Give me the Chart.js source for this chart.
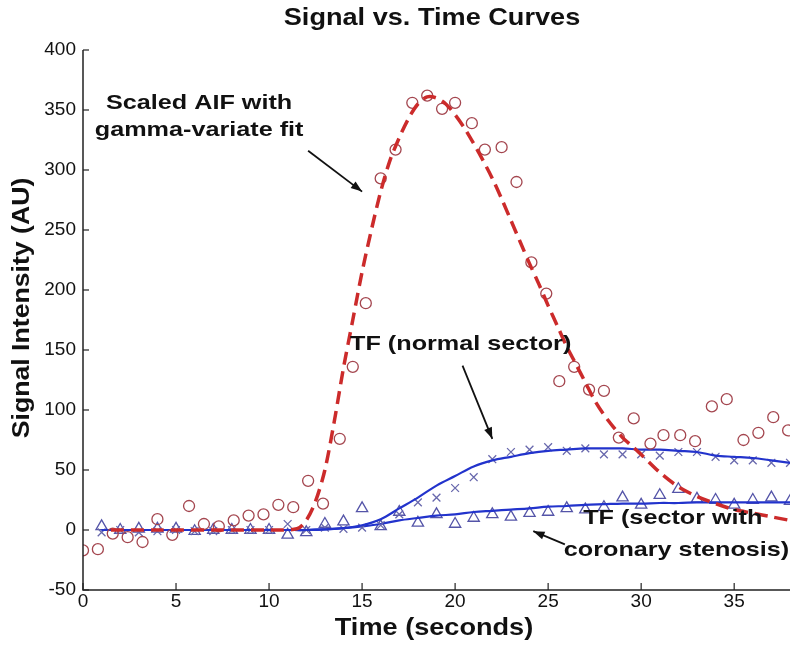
<!DOCTYPE html>
<html>
<head>
<meta charset="utf-8">
<script src="https://cdn.jsdelivr.net/npm/chart.js@4/dist/chart.umd.min.js"></script>
<style>
  html, body { margin: 0; padding: 0; background: #fff; }
  #wrap { width: 800px; height: 652px; }
</style>
</head>
<body>
<div id="wrap"><canvas id="curves" width="800" height="652"></canvas></div>
<script>
// values
const aifTime = [0, 0.8, 1.6, 2.4, 3.2, 4.0, 4.8, 5.7, 6.5, 7.3, 8.1, 8.9, 9.7, 10.5, 11.3, 12.1,
  12.9, 13.8, 14.5, 15.2, 16.0, 16.8, 17.7, 18.5, 19.3, 20.0, 20.9, 21.6, 22.5, 23.3, 24.1, 24.9,
  25.6, 26.4, 27.2, 28.0, 28.8, 29.6, 30.5, 31.2, 32.1, 32.9, 33.8, 34.6, 35.5, 36.3, 37.1, 37.9];
const aifSignal = [-17, -16, -3, -6, -10, 9, -4, 20, 5, 3, 8, 12, 13, 21, 19, 41,
  22, 76, 136, 189, 293, 317, 356, 362, 351, 356, 339, 317, 319, 290, 223, 197,
  124, 136, 117, 116, 77, 93, 72, 79, 79, 74, 103, 109, 75, 81, 94, 83];

const aifFitTime = [1.5, 4, 7, 10, 11.5, 12, 12.5, 13, 13.5, 14, 14.5, 15, 15.5, 16, 16.5, 17, 17.5,
  18, 18.5, 19, 19.5, 20, 20.5, 21, 21.5, 22, 22.5, 23, 23.5, 24, 24.5, 25, 25.5, 26, 26.5, 27,
  27.5, 28, 28.5, 29, 29.5, 30, 31, 32, 33, 34, 35, 36, 37, 38];
const aifFitSignal = [0, 0, 0, 0, 1, 8, 24, 50, 90, 135, 175, 215, 250, 282, 308, 327, 343,
  355, 361, 360, 355, 346, 335, 322, 308, 293, 276, 258, 240, 222, 205, 187, 170, 153, 138, 123,
  108, 96, 86, 77, 70, 63, 48, 36, 28, 22, 17, 14, 11, 8];

const tfTime = [1, 2, 3, 4, 5, 6, 7, 8, 9, 10, 11, 12, 13, 14, 15, 16, 17, 18, 19,
  20, 21, 22, 23, 24, 25, 26, 27, 28, 29, 30, 31, 32, 33, 34, 35, 36, 37, 38];
const normalSignal = [-2, 0, -2, -1, 0, -1, -1, 0, 0, 0, 5, 0, 2, 1, 2, 4, 13, 23, 27,
  35, 44, 59, 65, 67, 69, 66, 68, 63, 63, 63, 62, 65, 65, 61, 58, 58, 56, 56];
const normalFit = [0, 0, 0, 0, 0, 0, 0, 0, 0, 0, 0, 0, 0.5, 1.5, 4, 9, 18, 27, 37,
  45, 53, 58, 61, 64, 66, 67, 68, 68, 68, 67, 67, 66, 65, 62, 61, 60, 58, 56];
const stenosisSignal = [3, 0, 1, 1, 1, -1, 0, 0, 0, 0, -4, -2, 5, 7, 18, 3, 15, 6, 13,
  5, 10, 13, 11, 14, 15, 18, 17, 19, 27, 21, 29, 34, 26, 25, 21, 25, 27, 24];
const stenosisFit = [0, 0, 0, 0, 0, 0, 0, 0, 0, 0, 0, 0, 0.5, 1.5, 3, 5, 8, 10, 12,
  13, 15, 16, 17, 18, 19.5, 20, 21, 21.5, 22, 22, 22.5, 22.5, 23, 23, 23, 23, 23, 23];

const xTicks = [0, 5, 10, 15, 20, 25, 30, 35];
const yTicks = [-50, 0, 50, 100, 150, 200, 250, 300, 350, 400];

const toPoints = (xs, ys) => xs.map((x, i) => ({ x: x, y: ys[i] }));

// annotation texts [text, x, y] in data units
const notes = [
  ['Scaled AIF with', 6.24, 356],
  ['gamma-variate fit', 6.24, 333],
  ['TF (normal sector)', 20.3, 155],
  ['TF (sector with', 31.7, 10],
  ['coronary stenosis)', 31.9, -17]
];
// arrows [x0, y0, x1, y1], head at the end
const arrows = [
  [12.1, 316, 15.0, 282],
  [20.4, 137, 22.0, 76],
  [25.9, -12, 24.2, -1]
];

const FONT = '"Liberation Sans", Arial, sans-serif';
// the figure's lettering is a little wider than Arial
const STRETCH = 1.13;

function wideText(c, text, x, y, sx) {
  c.save();
  c.translate(x, y);
  c.scale(sx, 1);
  c.fillText(text, 0, 0);
  c.restore();
}

const decorPlugin = {
  id: 'decor',
  afterDraw(chart) {
    const c = chart.ctx;
    const xs = chart.scales.x, ys = chart.scales.y;
    const a = chart.chartArea;
    c.save();
    c.strokeStyle = '#222';
    c.lineWidth = 1.5;
    // axis lines
    c.beginPath();
    c.moveTo(a.left, a.top);
    c.lineTo(a.left, a.bottom);
    c.lineTo(a.right, a.bottom);
    c.stroke();
    // inward ticks
    c.lineWidth = 1.2;
    yTicks.forEach(v => {
      const py = ys.getPixelForValue(v);
      c.beginPath(); c.moveTo(a.left, py); c.lineTo(a.left + 6, py); c.stroke();
    });
    xTicks.forEach(v => {
      const px = xs.getPixelForValue(v);
      c.beginPath(); c.moveTo(px, a.bottom); c.lineTo(px, a.bottom - 7); c.stroke();
    });

    // notes
    c.fillStyle = '#111';
    c.font = 'bold 21px ' + FONT;
    c.textAlign = 'center';
    c.textBaseline = 'middle';
    notes.forEach(n => {
      wideText(c, n[0], xs.getPixelForValue(n[1]), ys.getPixelForValue(n[2]), 1.2);
    });
    // arrows
    c.strokeStyle = '#111';
    c.lineWidth = 1.8;
    arrows.forEach(ar => {
      const x0 = xs.getPixelForValue(ar[0]), y0 = ys.getPixelForValue(ar[1]);
      const x1 = xs.getPixelForValue(ar[2]), y1 = ys.getPixelForValue(ar[3]);
      const ang = Math.atan2(y1 - y0, x1 - x0);
      c.beginPath(); c.moveTo(x0, y0); c.lineTo(x1, y1); c.stroke();
      c.beginPath();
      c.moveTo(x1, y1);
      c.lineTo(x1 - 12 * Math.cos(ang - 0.35), y1 - 12 * Math.sin(ang - 0.35));
      c.lineTo(x1 - 12 * Math.cos(ang + 0.35), y1 - 12 * Math.sin(ang + 0.35));
      c.closePath();
      c.fillStyle = '#111';
      c.fill();
    });

    // titles
    c.font = 'bold 24px ' + FONT;
    wideText(c, 'Signal vs. Time Curves', 432, 18, STRETCH);
    wideText(c, 'Time (seconds)', 434, 628, STRETCH);
    c.translate(22, 308);
    c.rotate(-Math.PI / 2);
    wideText(c, 'Signal Intensity (AU)', 0, 0, 1.11);
    c.restore();
  }
};

document.addEventListener('DOMContentLoaded', () => {
  const ctx = document.getElementById('curves').getContext('2d');

  new Chart(ctx, {
    type: 'scatter',
    data: {
      datasets: [
        {
          label: 'AIF fit',
          data: toPoints(aifFitTime, aifFitSignal),
          showLine: true,
          borderColor: '#cc2b2b',
          borderWidth: 3.5,
          borderDash: [13, 7],
          pointRadius: 0,
          tension: 0.3
        },
        {
          label: 'AIF',
          data: toPoints(aifTime, aifSignal),
          pointStyle: 'circle',
          pointRadius: 5.5,
          borderColor: '#a4464f',
          borderWidth: 1.3,
          backgroundColor: 'rgba(0,0,0,0)'
        },
        {
          label: 'Normal fit',
          data: toPoints(tfTime, normalFit),
          showLine: true,
          borderColor: '#2233cc',
          borderWidth: 2.2,
          pointRadius: 0,
          tension: 0.35
        },
        {
          label: 'Normal',
          data: toPoints(tfTime, normalSignal),
          pointStyle: 'crossRot',
          pointRadius: 5.5,
          borderColor: '#6868ad',
          borderWidth: 1.3
        },
        {
          label: 'Stenosis fit',
          data: toPoints(tfTime, stenosisFit),
          showLine: true,
          borderColor: '#2233cc',
          borderWidth: 2.2,
          pointRadius: 0,
          tension: 0.35
        },
        {
          label: 'Stenosis',
          data: toPoints(tfTime, stenosisSignal),
          pointStyle: 'triangle',
          pointRadius: 6.5,
          borderColor: '#5454a8',
          borderWidth: 1.3,
          backgroundColor: 'rgba(0,0,0,0)'
        }
      ]
    },
    options: {
      responsive: false,
      animation: false,
      layout: { padding: { top: 50, right: 10, left: 0, bottom: 0 } },
      plugins: {
        legend: { display: false },
        tooltip: { enabled: false }
      },
      scales: {
        x: {
          type: 'linear',
          min: 0,
          max: 38,
          afterFit: (s) => { s.height = 62; },
          afterBuildTicks: (s) => { s.ticks = xTicks.map(v => ({ value: v })); },
          grid: { display: false },
          border: { display: false },
          ticks: { color: '#111', font: { family: FONT, size: 19 }, padding: -8, maxRotation: 0 }
        },
        y: {
          type: 'linear',
          min: -50,
          max: 400,
          afterFit: (s) => { s.width = 83; },
          afterBuildTicks: (s) => { s.ticks = yTicks.map(v => ({ value: v })); },
          grid: { display: false },
          border: { display: false },
          ticks: { color: '#111', font: { family: FONT, size: 19 }, padding: -1 }
        }
      }
    },
    plugins: [decorPlugin]
  });
});
</script>
</body>
</html>
